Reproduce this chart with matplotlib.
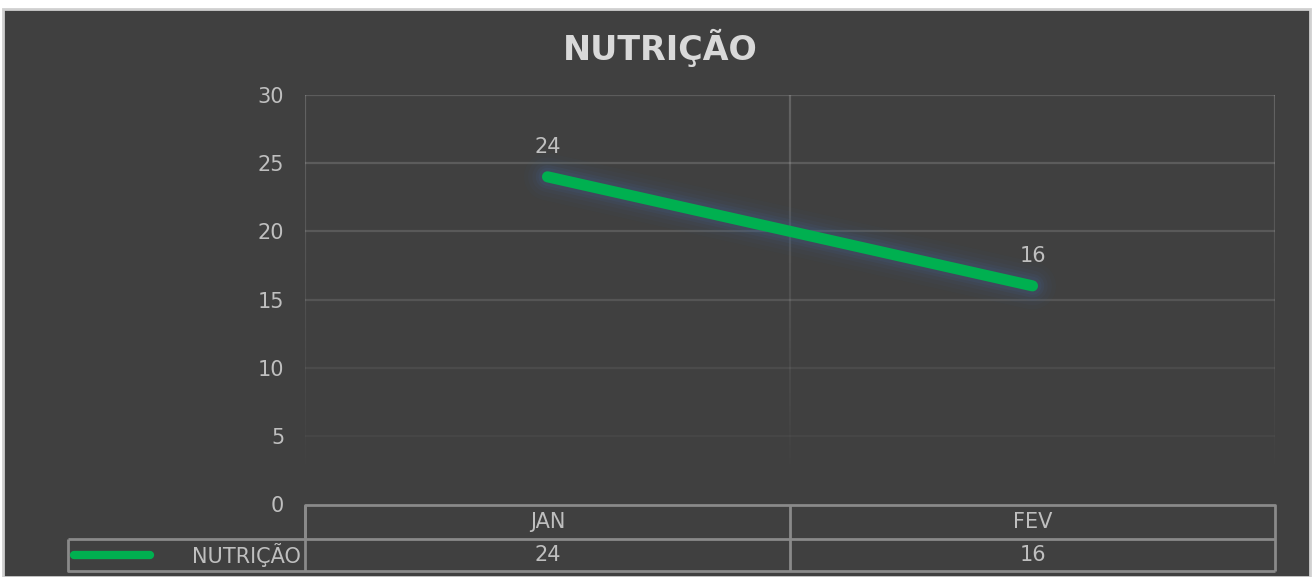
import numpy as np
import matplotlib.pyplot as plt
from matplotlib.collections import LineCollection

plt.rcParams['font.family'] = ['DejaVu Sans']

title = 'NUTRIÇÃO'
series_name = 'NUTRIÇÃO'
months = ['JAN', 'FEV']
values = [24, 16]
yticks = [0, 5, 10, 15, 20, 25, 30]

bg = '#404040'
txt = '#bfbfbf'
green = '#00b050'
W, H = 1312, 577

fig = plt.figure(figsize=(W / 100, H / 100), dpi=100, facecolor='white')
# dark chart area with thin light border
fig.patches.append(plt.Rectangle((3 / W, 0), (W - 5) / W, (H - 9) / H, transform=fig.transFigure,
                                 facecolor=bg, edgecolor='#d0d0d0', linewidth=2, zorder=-5))

left, right, top, bot = 305, 1275, 95, 504
ax = fig.add_axes([left / W, (H - bot) / H, (right - left) / W, (bot - top) / H])
ax.set_facecolor('none')
for s in ax.spines.values():
    s.set_visible(False)

x = np.arange(len(months))
ax.set_xlim(-0.5, len(months) - 0.5)
ax.set_ylim(0, 30)
ax.set_xticks([])
ax.set_yticks(yticks)
ax.set_yticklabels([str(v) for v in yticks], color=txt, fontsize=15)
ax.tick_params(axis='y', length=0, pad=15)

# horizontal gridlines, fading towards the bottom
fade = {30: '#5c5c5c', 25: '#5c5c5c', 20: '#595959', 15: '#555555', 10: '#4b4b4b', 5: '#464646'}
for v in yticks[1:]:
    ax.axhline(v, color=fade[v], lw=1.6, zorder=1)

# vertical lines (left edge, category divider, right edge) fading downward
n = 60
ys = np.linspace(30, 1.5, n + 1)
for xv in [-0.5, 0.5, len(months) - 0.5]:
    segs = [[(xv, ys[i]), (xv, ys[i + 1])] for i in range(n)]
    a = np.linspace(0.28, 0.0, n)
    cols = [(0.75, 0.75, 0.75, ai) for ai in a]
    ax.add_collection(LineCollection(segs, colors=cols, linewidths=1.6, zorder=1))

# glow behind the line
for lw, al in [(34, 0.04), (28, 0.06), (22, 0.08), (17, 0.12), (13, 0.15)]:
    ax.plot(x, values, color='#3f5f8f', lw=lw, alpha=al, solid_capstyle='round', zorder=2)
ax.plot(x, values, color=green, lw=8, solid_capstyle='round', zorder=3)

for xi, v in zip(x, values):
    ax.annotate(str(v), (xi, v), xytext=(0, 14), textcoords='offset points',
                ha='center', va='bottom', color=txt, fontsize=15)

fig.text(0.503, (H - 48) / H, title, ha='center', va='center', color='#d9d9d9',
         fontsize=24, fontweight='bold')

# data table below the axes
tr = ax.get_xaxis_transform()
ppu = (bot - top)
r0, r1, r2 = (bot - 505) / ppu, (bot - 539) / ppu, (bot - 571) / ppu
x_leg = -0.5 - (left - 68) / ((right - left) / len(months))
lc = '#8a8a8a'
lk = dict(color=lc, lw=2, transform=tr, clip_on=False, solid_capstyle='butt')
ax.plot([-0.5, -0.5, len(months) - 0.5, len(months) - 0.5], [r1, r0, r0, r2], **lk)
ax.plot([x_leg, len(months) - 0.5], [r1, r1], **lk)
ax.plot([x_leg, x_leg, len(months) - 0.5], [r1, r2, r2], **lk)
for i in range(len(months)):
    ax.plot([i - 0.5, i - 0.5], [r0, r2], **lk)
    ax.text(i, (r0 + r1) / 2, months[i], transform=tr, ha='center', va='center',
            color=txt, fontsize=15)
    ax.text(i, (r1 + r2) / 2, str(values[i]), transform=tr, ha='center', va='center',
            color=txt, fontsize=15)

ym = (r1 + r2) / 2
ax.plot([x_leg + 0.012, x_leg + 0.17], [ym, ym], color=green, lw=6, solid_capstyle='round',
        transform=tr, clip_on=False)
ax.text(-0.5 - 0.008, ym, series_name, transform=tr, ha='right', va='center', color=txt, fontsize=15)

fig.savefig('out.png', dpi=100, facecolor=fig.get_facecolor())
